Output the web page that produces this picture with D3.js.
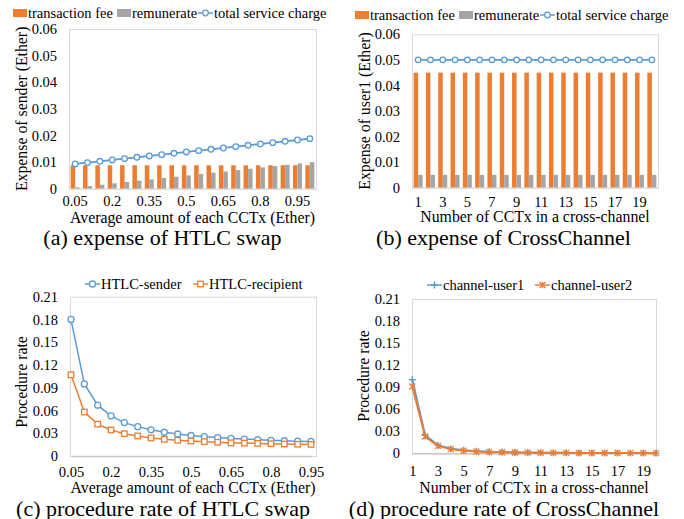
<!DOCTYPE html>
<html>
<head>
<meta charset="utf-8">
<script src="https://cdn.jsdelivr.net/npm/d3@7/dist/d3.min.js"></script>
<style>
  html, body { margin: 0; padding: 0; background: #fff; }
  svg { display: block; font-family: "Liberation Serif", "Times New Roman", serif; }
  svg text { font-family: "Liberation Serif", "Times New Roman", serif; }
</style>
</head>
<body>
<svg id="fig" width="684" height="519"></svg>
<script>
// ---- (a) expense of HTLC swap ----
const amountsA = ["0.05","0.1","0.15","0.2","0.25","0.3","0.35","0.4","0.45","0.5",
                  "0.55","0.6","0.65","0.7","0.75","0.8","0.85","0.9","0.95","1"];
const feeA   = [0.0088,0.0088,0.0088,0.0088,0.0088,0.0088,0.0088,0.0088,0.0088,0.0088,
                0.0088,0.0088,0.0088,0.0088,0.0088,0.0088,0.0088,0.0088,0.0088,0.0088];
const remA   = [0.0005,0.001,0.0015,0.002,0.0025,0.003,0.0035,0.004,0.0045,0.005,
                0.0055,0.006,0.0065,0.007,0.0075,0.008,0.0085,0.009,0.0095,0.01];
const totalA = [0.0093,0.0098,0.0103,0.0108,0.0113,0.0118,0.0123,0.0128,0.0133,0.0138,
                0.0143,0.0148,0.0153,0.0158,0.0163,0.0168,0.0173,0.0178,0.0183,0.0188];
const xTicksA = ["0.05","0.2","0.35","0.5","0.65","0.8","0.95"];
const yTicksA = [0,0.01,0.02,0.03,0.04,0.05,0.06];

// ---- (b) expense of CrossChannel ----
const countsB = ["1","2","3","4","5","6","7","8","9","10","11","12","13","14","15","16","17","18","19","20"];
const feeB   = [0.045,0.045,0.045,0.045,0.045,0.045,0.045,0.045,0.045,0.045,
                0.045,0.045,0.045,0.045,0.045,0.045,0.045,0.045,0.045,0.045];
const remB   = [0.005,0.005,0.005,0.005,0.005,0.005,0.005,0.005,0.005,0.005,
                0.005,0.005,0.005,0.005,0.005,0.005,0.005,0.005,0.005,0.005];
const totalB = [0.05,0.05,0.05,0.05,0.05,0.05,0.05,0.05,0.05,0.05,
                0.05,0.05,0.05,0.05,0.05,0.05,0.05,0.05,0.05,0.05];
const xTicksB = ["1","3","5","7","9","11","13","15","17","19"];
const yTicksB = [0,0.01,0.02,0.03,0.04,0.05,0.06];

// ---- (c) procedure rate of HTLC swap ----
const amountsC = ["0.05","0.1","0.15","0.2","0.25","0.3","0.35","0.4","0.45","0.5",
                  "0.55","0.6","0.65","0.7","0.75","0.8","0.85","0.9","0.95"];
const senderC    = [0.180,0.095,0.067,0.053,0.044,0.0387,0.0345,0.0313,0.029,0.027,
                    0.0255,0.0243,0.0232,0.0223,0.0215,0.0207,0.0201,0.0196,0.0192];
const recipientC = [0.107,0.058,0.042,0.0343,0.0294,0.0264,0.0238,0.022,0.0207,0.0198,
                    0.0189,0.0181,0.0173,0.017,0.0166,0.0162,0.0158,0.0155,0.0153];
const xTicksC = ["0.05","0.2","0.35","0.5","0.65","0.8","0.95"];
const yTicksC = [0,0.03,0.06,0.09,0.12,0.15,0.18,0.21];

// ---- (d) procedure rate of CrossChannel ----
const countsD = ["1","2","3","4","5","6","7","8","9","10","11","12","13","14","15","16","17","18","19","20"];
const user1D = [0.1,0.0245,0.0111,0.0062,0.004,0.0028,0.002,0.0016,0.0012,0.001,
                0.0008,0.0007,0.0006,0.0005,0.0004,0.0004,0.0003,0.0003,0.0003,0.00025];
const user2D = [0.091,0.0228,0.0101,0.0057,0.0036,0.0025,0.0019,0.0014,0.0011,0.0009,
                0.00075,0.00063,0.00054,0.00046,0.0004,0.00036,0.00031,0.00028,0.00025,0.00023];
const xTicksD = ["1","3","5","7","9","11","13","15","17","19"];
const yTicksD = [0,0.03,0.06,0.09,0.12,0.15,0.18,0.21];

const ORANGE = "#ED7D31", GRAY = "#A5A5A5", BLUE = "#5B9BD5", FRAME = "#D9D9D9";
const FONT = "Liberation Serif";
const TICK_FS = 14.5, LEG_FS = 14.5, LABEL_FS = 15.8, TITLE_FS = 22;

const svg = d3.select("#fig");
const fmt = v => v === 0 ? "0" : d3.format("~g")(v);

function frame(g, x0, x1, y0, y1) {
  g.append("rect").attr("x", x0 + 0.5).attr("y", y0 + 0.5)
    .attr("width", x1 - x0).attr("height", y1 - y0)
    .attr("fill", "none").attr("stroke", FRAME).attr("stroke-width", 1);
}

function yAxis(g, y, ticks, x0, pad) {
  const ax = g.append("g").attr("transform", `translate(${x0},0)`)
    .call(d3.axisLeft(y).tickValues(ticks).tickSize(0).tickPadding(pad).tickFormat(fmt));
  ax.attr("font-family", FONT);
  ax.select(".domain").remove();
  ax.selectAll("text").attr("font-size", TICK_FS).attr("fill", "#000").attr("font-family", FONT);
}

function xAxis(g, x, ticks, y0, pad, lineColor, lineWidth) {
  const ax = g.append("g").attr("transform", `translate(0,${y0})`)
    .call(d3.axisBottom(x).tickValues(ticks).tickSize(0).tickPadding(pad));
  ax.attr("font-family", FONT);
  ax.select(".domain").attr("stroke", lineColor).attr("stroke-width", lineWidth);
  ax.selectAll("text").attr("font-size", TICK_FS).attr("fill", "#000").attr("font-family", FONT);
}

function text(g, s, x, y, fs, rotate) {
  const t = g.append("text").text(s).attr("font-size", fs).attr("fill", "#000")
    .attr("font-family", FONT)
    .attr("text-anchor", "middle").attr("dominant-baseline", "central");
  if (rotate) t.attr("transform", `translate(${x},${y}) rotate(-90)`);
  else t.attr("x", x).attr("y", y);
  return t;
}

function circleMarker(g, cx, cy, r, color) {
  g.append("circle").attr("cx", cx).attr("cy", cy).attr("r", r)
    .attr("fill", "#fff").attr("stroke", color).attr("stroke-width", 1.3);
}
function squareMarker(g, cx, cy, s, color) {
  g.append("rect").attr("x", cx - s / 2).attr("y", cy - s / 2).attr("width", s).attr("height", s)
    .attr("fill", "#fff").attr("stroke", color).attr("stroke-width", 1.3);
}
function plusMarker(g, cx, cy, s, color) {
  g.append("path").attr("d", `M${cx - s},${cy}H${cx + s}M${cx},${cy - s}V${cy + s}`)
    .attr("stroke", color).attr("stroke-width", 1.4).attr("fill", "none");
}
function starMarker(g, cx, cy, s, color) {
  g.append("path").attr("d",
    `M${cx - s},${cy - s}L${cx + s},${cy + s}M${cx - s},${cy + s}L${cx + s},${cy - s}M${cx},${cy - s}V${cy + s}`)
    .attr("stroke", color).attr("stroke-width", 1.3).attr("fill", "none");
}

// legend helpers: swatch for bars, line+marker for series
function legendBar(g, x, y, color, label) {
  g.append("rect").attr("x", x).attr("y", y - 4).attr("width", 14).attr("height", 8).attr("fill", color);
  g.append("text").text(label).attr("x", x + 15).attr("y", y).attr("dominant-baseline", "central")
    .attr("font-family", FONT).attr("font-size", LEG_FS).attr("fill", "#000");
}
function legendLine(g, x, y, color, marker, label) {
  g.append("line").attr("x1", x).attr("x2", x + 15).attr("y1", y).attr("y2", y)
    .attr("stroke", color).attr("stroke-width", 1.5);
  marker(g, x + 7.5, y, color);
  g.append("text").text(label).attr("x", x + 16).attr("y", y).attr("dominant-baseline", "central")
    .attr("font-family", FONT).attr("font-size", LEG_FS).attr("fill", "#000");
}

// ---- bar + line panel ----
function barPanel(cfg) {
  const g = svg.append("g");
  const { x0, x1, y0, y1 } = cfg.box;
  const x = d3.scaleBand().domain(cfg.cats).range([x0, x1]).paddingInner(0.27).paddingOuter(0.135);
  const sub = d3.scaleBand().domain(["fee", "rem"]).range([0, x.bandwidth()]);
  const y = d3.scaleLinear().domain([0, 0.06]).range([y1, y0]);
  frame(g, x0, x1, y0, y1);
  g.append("g").selectAll("rect.fee").data(cfg.fee).join("rect")
    .attr("x", (d, i) => x(cfg.cats[i]) + sub("fee")).attr("width", sub.bandwidth())
    .attr("y", d => y(d)).attr("height", d => y(0) - y(d)).attr("fill", ORANGE);
  g.append("g").selectAll("rect.rem").data(cfg.rem).join("rect")
    .attr("x", (d, i) => x(cfg.cats[i]) + sub("rem")).attr("width", sub.bandwidth())
    .attr("y", d => y(d)).attr("height", d => y(0) - y(d)).attr("fill", GRAY);
  const cx = (d, i) => x(cfg.cats[i]) + x.bandwidth() / 2;
  g.append("path").datum(cfg.total)
    .attr("d", d3.line().x(cx).y(d => y(d)))
    .attr("fill", "none").attr("stroke", BLUE).attr("stroke-width", 1.8);
  cfg.total.forEach((d, i) => circleMarker(g, cx(d, i), y(d), 2.8, BLUE));
  yAxis(g, y, cfg.yTicks, x0, 12);
  xAxis(g, x, cfg.xTicks, y1, cfg.xPad, FRAME, 1);
  const L = cfg.legend;
  legendBar(g, L.x, L.y, ORANGE, "transaction fee");
  legendBar(g, L.x + 104, L.y, GRAY, "remunerate");
  legendLine(g, L.x + 185, L.y, BLUE, (gg, a, b, c) => circleMarker(gg, a, b, 2.8, c), "total service charge");
  text(g, cfg.yLabel, cfg.yLabelX, (y0 + y1) / 2, LABEL_FS, true);
  text(g, cfg.xLabel, (x0 + x1) / 2, cfg.xLabelY, LABEL_FS);
  text(g, cfg.title, cfg.titleX, cfg.titleY, TITLE_FS);
}

// ---- line panel ----
function linePanel(cfg) {
  const g = svg.append("g");
  const { x0, x1, y0, y1 } = cfg.box;
  const x = d3.scalePoint().domain(cfg.cats).range(cfg.pointRange);
  const y = d3.scaleLinear().domain([0, 0.21]).range([y1, y0]);
  frame(g, x0, x1, y0, y1);
  yAxis(g, y, cfg.yTicks, x0, 12);
  xAxis(g, x, cfg.xTicks, y1, cfg.xPad, "#C8C8C8", 1.5);
  cfg.series.forEach(s => {
    g.append("path").datum(s.values)
      .attr("d", d3.line().x((d, i) => x(cfg.cats[i])).y(d => y(d)))
      .attr("fill", "none").attr("stroke", s.color).attr("stroke-width", s.width);
    s.values.forEach((d, i) => s.marker(g, x(cfg.cats[i]), y(d), s.color));
  });
  cfg.series.forEach((s, k) => legendLine(g, cfg.legend[k], cfg.legendY, s.color, s.marker, s.name));
  text(g, cfg.yLabel, cfg.yLabelX, cfg.yLabelY, LABEL_FS, true);
  text(g, cfg.xLabel, (x0 + x1) / 2, cfg.xLabelY, LABEL_FS);
  text(g, cfg.title, cfg.titleX, cfg.titleY, TITLE_FS);
}

barPanel({
  cats: amountsA, fee: feeA, rem: remA, total: totalA, xTicks: xTicksA, yTicks: yTicksA,
  box: { x0: 69, x1: 316, y0: 29, y1: 188.7 }, xPad: 7,
  legend: { x: 13, y: 13 },
  yLabel: "Expense of sender (Ether)", yLabelX: 21,
  xLabel: "Average amount of each CCTx (Ether)", xLabelY: 217,
  title: "(a) expense of HTLC swap", titleX: 162.5, titleY: 237
});

barPanel({
  cats: countsB, fee: feeB, rem: remB, total: totalB, xTicks: xTicksB, yTicks: yTicksB,
  box: { x0: 412, x1: 658, y0: 34.3, y1: 187.7 }, xPad: 8.7,
  legend: { x: 355, y: 15 },
  yLabel: "Expense of user1 (Ether)", yLabelX: 364,
  xLabel: "Number of CCTx in a cross-channel", xLabelY: 216.7,
  title: "(b) expense of CrossChannel", titleX: 503.5, titleY: 237
});

linePanel({
  cats: amountsC, xTicks: xTicksC, yTicks: yTicksC,
  box: { x0: 70, x1: 316, y0: 296.7, y1: 456 }, pointRange: [71, 311], xPad: 10.7,
  series: [
    { name: "HTLC-sender", values: senderC, color: BLUE, width: 1.5,
      marker: (g, a, b, c) => circleMarker(g, a, b, 3, c) },
    { name: "HTLC-recipient", values: recipientC, color: ORANGE, width: 1.5,
      marker: (g, a, b, c) => squareMarker(g, a, b, 5.5, c) }
  ],
  legend: [85, 193], legendY: 284,
  yLabel: "Procedure rate", yLabelX: 21, yLabelY: 382,
  xLabel: "Average amount of each CCTx (Ether)", xLabelY: 487.7,
  title: "(c) procedure rate of HTLC swap", titleX: 163, titleY: 508
});

linePanel({
  cats: countsD, xTicks: xTicksD, yTicks: yTicksD,
  box: { x0: 412, x1: 656, y0: 299, y1: 453.3 }, pointRange: [412.3, 656], xPad: 12.4,
  series: [
    { name: "channel-user1", values: user1D, color: BLUE, width: 2,
      marker: (g, a, b, c) => plusMarker(g, a, b, 3.5, c) },
    { name: "channel-user2", values: user2D, color: ORANGE, width: 2,
      marker: (g, a, b, c) => starMarker(g, a, b, 3, c) }
  ],
  legend: [427, 535], legendY: 285,
  yLabel: "Procedure rate", yLabelX: 363, yLabelY: 376,
  xLabel: "Number of CCTx in a cross-channel", xLabelY: 487.7,
  title: "(d) procedure rate of CrossChannel", titleX: 504, titleY: 508
});
</script>
</body>
</html>
